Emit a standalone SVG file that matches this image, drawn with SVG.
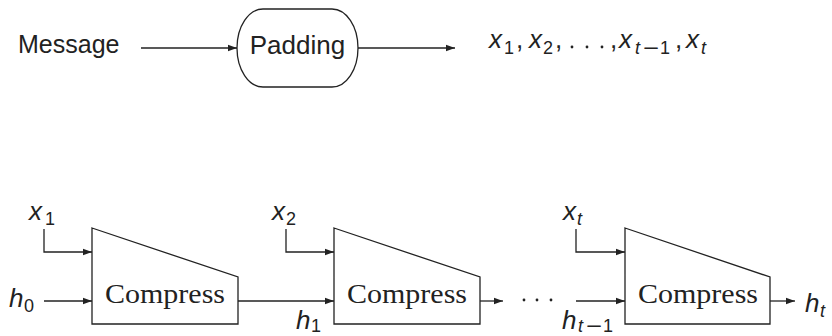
<svg xmlns="http://www.w3.org/2000/svg" width="832" height="336" viewBox="0 0 832 336">
<style>
.ln{fill:none;stroke:#222;stroke-width:1.3}
.sans{font-family:"Liberation Sans",Arial,sans-serif;fill:#222}
.it{font-family:"Liberation Sans",Arial,sans-serif;font-style:italic;fill:#222;font-size:26px}
.sub{font-family:"Liberation Sans",Arial,sans-serif;fill:#222;font-size:18px}
.subi{font-family:"Liberation Sans",Arial,sans-serif;font-style:italic;fill:#222;font-size:18px}
.serif{font-family:"Liberation Serif","Times New Roman",serif;fill:#222;font-size:27px}
.dot{fill:#222}
</style>
<defs>
<marker id="ah" markerUnits="userSpaceOnUse" markerWidth="10" markerHeight="8" refX="9" refY="4" orient="auto">
<path d="M0,0.8 L9,4 L0,7.2 Z" fill="#222"/>
</marker>
</defs>

<g id="message"><text class="sans" x="18" y="53" font-size="25">Message</text></g>
<g id="padding">
<rect class="ln" x="237" y="9" width="121" height="78" rx="26" ry="39"/>
<text class="sans" x="297.5" y="54" font-size="26" text-anchor="middle">Padding</text>
</g>
<g id="blocks-seq">
<text class="it" x="489" y="48">x</text><text class="sub" x="504" y="54">1</text>
<text class="sans" x="516" y="48" font-size="26">,</text>
<text class="it" x="529" y="48">x</text><text class="sub" x="543" y="54">2</text>
<text class="sans" x="555" y="48" font-size="26">,</text>
<circle class="dot" cx="572" cy="47" r="1.4"/><circle class="dot" cx="587" cy="47" r="1.4"/><circle class="dot" cx="602" cy="47" r="1.4"/>
<text class="sans" x="610" y="48" font-size="26">,</text>
<text class="it" x="619" y="48">x</text><text class="subi" x="635" y="54">t</text><text class="sub" x="643" y="54" textLength="16" lengthAdjust="spacingAndGlyphs">−</text><text class="sub" x="660" y="54">1</text>
<text class="sans" x="675" y="48" font-size="26">,</text>
<text class="it" x="686" y="48">x</text><text class="subi" x="701" y="54">t</text>
</g>

<g id="compress1">
<polygon class="ln" points="92,228 238,277 238,324 92,324"/>
<text class="serif" x="165" y="303" text-anchor="middle" textLength="120" lengthAdjust="spacingAndGlyphs">Compress</text>
</g>
<g id="compress2">
<polygon class="ln" points="334,228 480,277 480,324 334,324"/>
<text class="serif" x="407" y="303" text-anchor="middle" textLength="120" lengthAdjust="spacingAndGlyphs">Compress</text>
</g>
<g id="compress3">
<polygon class="ln" points="625,228 770,277 770,324 625,324"/>
<text class="serif" x="698" y="303" text-anchor="middle" textLength="120" lengthAdjust="spacingAndGlyphs">Compress</text>
</g>

<g id="labels">
<text class="it" x="29" y="220">x</text><text class="sub" x="45" y="225">1</text>
<text class="it" x="9" y="307">h</text><text class="sub" x="24" y="312">0</text>
<text class="it" x="272" y="220">x</text><text class="sub" x="286" y="225">2</text>
<text class="it" x="296" y="329">h</text><text class="sub" x="311" y="332">1</text>
<text class="it" x="563" y="220">x</text><text class="subi" x="577" y="225">t</text>
<text class="it" x="562" y="329">h</text><text class="subi" x="578" y="332">t</text><text class="sub" x="586" y="332" textLength="16" lengthAdjust="spacingAndGlyphs">−</text><text class="sub" x="603" y="332">1</text>
<text class="it" x="805" y="312">h</text><text class="subi" x="820" y="317">t</text>
<circle class="dot" cx="524" cy="300" r="1.4"/><circle class="dot" cx="537" cy="300" r="1.4"/><circle class="dot" cx="551" cy="300" r="1.4"/>
</g>

<g id="connectors">
<path class="ln" d="M141,48 H237" marker-end="url(#ah)"/>
<path class="ln" d="M358,48 H455" marker-end="url(#ah)"/>
<path class="ln" d="M44,229 V252 H92" marker-end="url(#ah)"/>
<path class="ln" d="M44,301 H92" marker-end="url(#ah)"/>
<path class="ln" d="M238,301 H334" marker-end="url(#ah)"/>
<path class="ln" d="M286,229 V252 H334" marker-end="url(#ah)"/>
<path class="ln" d="M480,301 H503" marker-end="url(#ah)"/>
<path class="ln" d="M576,229 V252 H625" marker-end="url(#ah)"/>
<path class="ln" d="M576,301 H625" marker-end="url(#ah)"/>
<path class="ln" d="M770,301 H795" marker-end="url(#ah)"/>
</g>
</svg>
